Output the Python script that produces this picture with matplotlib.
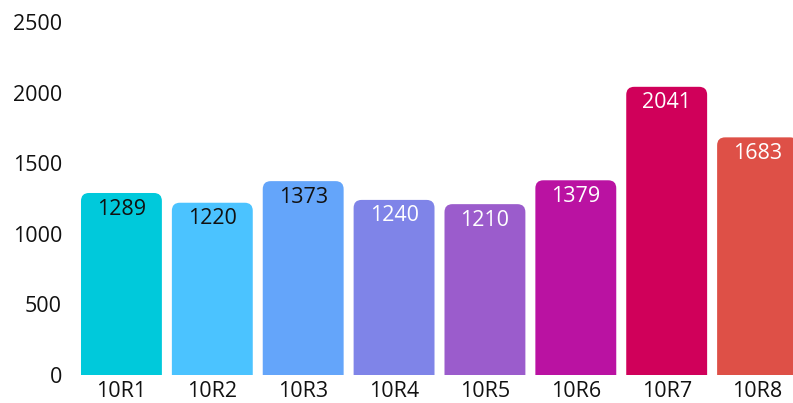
import matplotlib
matplotlib.use("Agg")
import matplotlib.pyplot as plt
from matplotlib.patches import FancyBboxPatch

# data
categories = ["10R1", "10R2", "10R3", "10R4", "10R5", "10R6", "10R7", "10R8"]
values = [1289, 1220, 1373, 1240, 1210, 1379, 2041, 1683]
colors = ["#00C9DB", "#4BC3FF", "#64A5FA", "#7F84E8", "#9B5CCC", "#BA12A2", "#D0005A", "#DE5047"]
label_colors = ["#111111", "#111111", "#111111", "white", "white", "white", "white", "white"]
yticks = [0, 500, 1000, 1500, 2000, 2500]

plt.rcParams['font.family'] = ['Open Sans', 'DejaVu Sans']

W, H = 793, 403
fig = plt.figure(figsize=(W / 100, H / 100), dpi=100)
# axes runs past the right edge so the last bar is cut off like the original
ax_left, ax_right, ax_bottom, ax_top = 76, 803, 28, 381
ax = fig.add_axes([ax_left / W, ax_bottom / H, (ax_right - ax_left) / W, (ax_top - ax_bottom) / H])

bar_w = 81 / 91
x = list(range(len(categories)))
ax.set_xlim(-0.5, len(categories) - 0.5)
ax.set_ylim(0, 2500)

# rounded top corners: radius ~8px in both directions
rx = 8 / 91
ry = 8 * 2500 / (ax_top - ax_bottom)
for xi, v, c in zip(x, values, colors):
    p = FancyBboxPatch((xi - bar_w / 2, -200), bar_w, v + 200,
                       boxstyle=f"round,pad=0,rounding_size={rx}",
                       mutation_aspect=ry / rx, facecolor=c, edgecolor="none")
    ax.add_patch(p)

for xi, v, lc in zip(x, values, label_colors):
    ax.annotate(str(v), (xi, v), xytext=(0, -4), textcoords="offset points",
                ha="center", va="top", fontsize=15.5, color=lc)

ax.set_xticks(x)
ax.set_xticklabels(categories)
ax.set_yticks(yticks)
ax.tick_params(axis="both", length=0, labelsize=15.5, labelcolor="#111111")
ax.tick_params(axis="y", pad=10)
ax.tick_params(axis="x", pad=4)
for s in ax.spines.values():
    s.set_visible(False)

fig.savefig("out.png", dpi=100)
